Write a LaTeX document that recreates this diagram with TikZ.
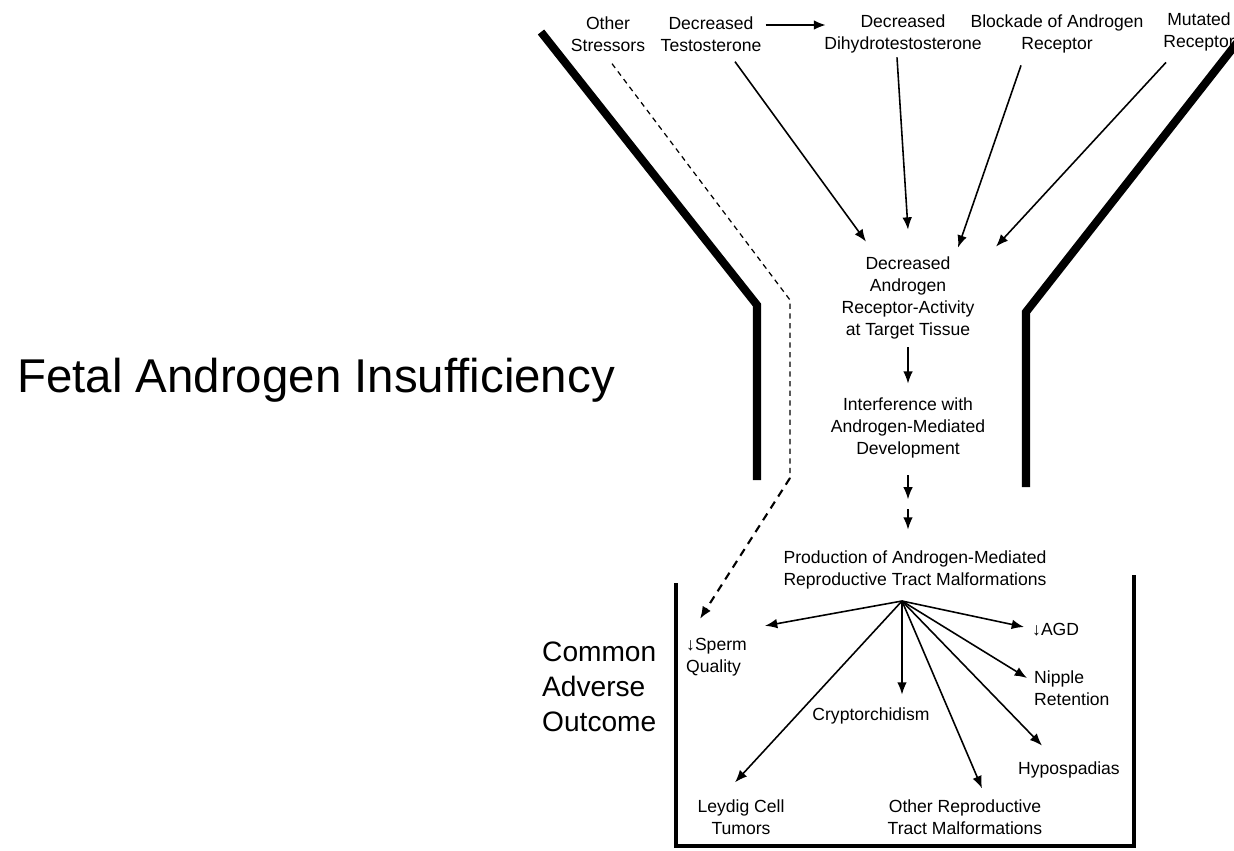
\documentclass[tikz,border=0pt]{standalone}
\usepackage{fontspec}
\setmainfont{Liberation Sans}
\usetikzlibrary{arrows.meta}

\begin{document}
\begin{tikzpicture}[x=0.02cm, y=-0.02cm,
	txt/.style={align=center, inner sep=0.5pt, font=\fontsize{10}{12.5}\selectfont},
	arr/.style={-{Latex[length=7pt,width=5.5pt]}, line width=0.9pt},
	wall/.style={line width=4.6pt},
	cup/.style={line width=2.8pt}]
	\useasboundingbox (0,0) rectangle (1234,850);
	\node[font=\fontsize{27}{32}\selectfont, anchor=base] (title) at (316,392) {Fetal Androgen Insufficiency};
	\node[font=\fontsize{16}{20}\selectfont, align=left, anchor=west] (cao) at (536,687) {Common\\Adverse\\Outcome};
	\node[txt] (oth) at (608,34) {Other\\Stressors};
	\node[txt] (tes) at (711,34) {Decreased\\Testosterone};
	\node[txt] (dht) at (903,34) {Decreased\\Dihydrotestosterone};
	\node[txt] (blk) at (1057,34) {Blockade of Androgen\\Receptor};
	\node[txt] (mut) at (1199,32) {Mutated\\Receptor};
	\node[txt] (dar) at (908,298) {Decreased\\Androgen\\Receptor-Activity\\at Target Tissue};
	\node[txt] (int) at (908,428) {Interference with\\Androgen-Mediated\\Development};
	\node[txt] (prod) at (915,570) {Production of Androgen-Mediated\\Reproductive Tract Malformations};
	\node[txt, align=left, anchor=west] (sperm) at (685,657) {↓Sperm\\Quality};
	\node[txt, align=left, anchor=west] (agd) at (1031,630) {↓AGD};
	\node[txt, align=left, anchor=west] (nip) at (1033,688) {Nipple\\Retention};
	\node[txt] (hyp) at (1069,770) {Hypospadias};
	\node[txt] (cry) at (871,716) {Cryptorchidism};
	\node[txt] (ley) at (741,817) {Leydig Cell\\Tumors};
	\node[txt] (orm) at (965,817) {Other Reproductive\\Tract Malformations};
	\draw[wall] (541,32) -- (757,305) -- (757,480);
	\draw[wall] (1240,39) -- (1026,312) -- (1026,487);
	\draw[cup] (676,583) -- (676,846) -- (1134,846) -- (1134,575);
	\draw[arr, line width=1.6pt] ([shift={(3,-9)}]tes.east) -- ([shift={(3,-9)}]dht.west);
	\draw[arr] ([shift={(24,9)}]tes.south) -- ([shift={(-42,-14)}]dar.north);
	\draw[arr] ([shift={(-6,3)}]dht.south) -- ([shift={(0,-26)}]dar.north);
	\draw[arr] ([shift={(-36,11)}]blk.south) -- ([shift={(50,-8)}]dar.north);
	\draw[arr] ([shift={(-33,10)}]mut.south) -- ([shift={(88,-9)}]dar.north);
	\draw[arr] ([shift={(0,7)}]dar.south) -- ([shift={(0,-13)}]int.north);
	\draw[arr] ([shift={(0,16)}]int.south) -- ++(0,24);
	\draw[arr] ([shift={(0,50)}]int.south) -- ([shift={(-7,-20)}]prod.north);
	\draw[dash pattern=on 3pt off 2.5pt, line width=0.7pt] ([shift={(4,11)}]oth.south) -- (790,300) coordinate (bend) -- (790,478) coordinate (low);
	\draw[arr, dash pattern=on 4.5pt off 3.5pt, line width=1.2pt] (low) -- ([shift={(15,-18)}]sperm.north west);
	\coordinate (hub) at (902,601);
	\draw[arr] (hub) -- ([shift={(17,-11)}]sperm.north east);
	\draw[arr] (hub) -- ([shift={(-7,-3)}]agd.west);
	\draw[arr] (hub) -- ([shift={(-6,-10)}]nip.west);
	\draw[arr] (hub) -- ([shift={(-27,-15)}]hyp.north);
	\draw[arr] (hub) -- ([shift={(17,-10)}]orm.north);
	\draw[arr] (hub) -- ([shift={(31,-12)}]cry.north);
	\draw[arr] (hub) -- ([shift={(-6,-16)}]ley.north);
\end{tikzpicture}
\end{document}
